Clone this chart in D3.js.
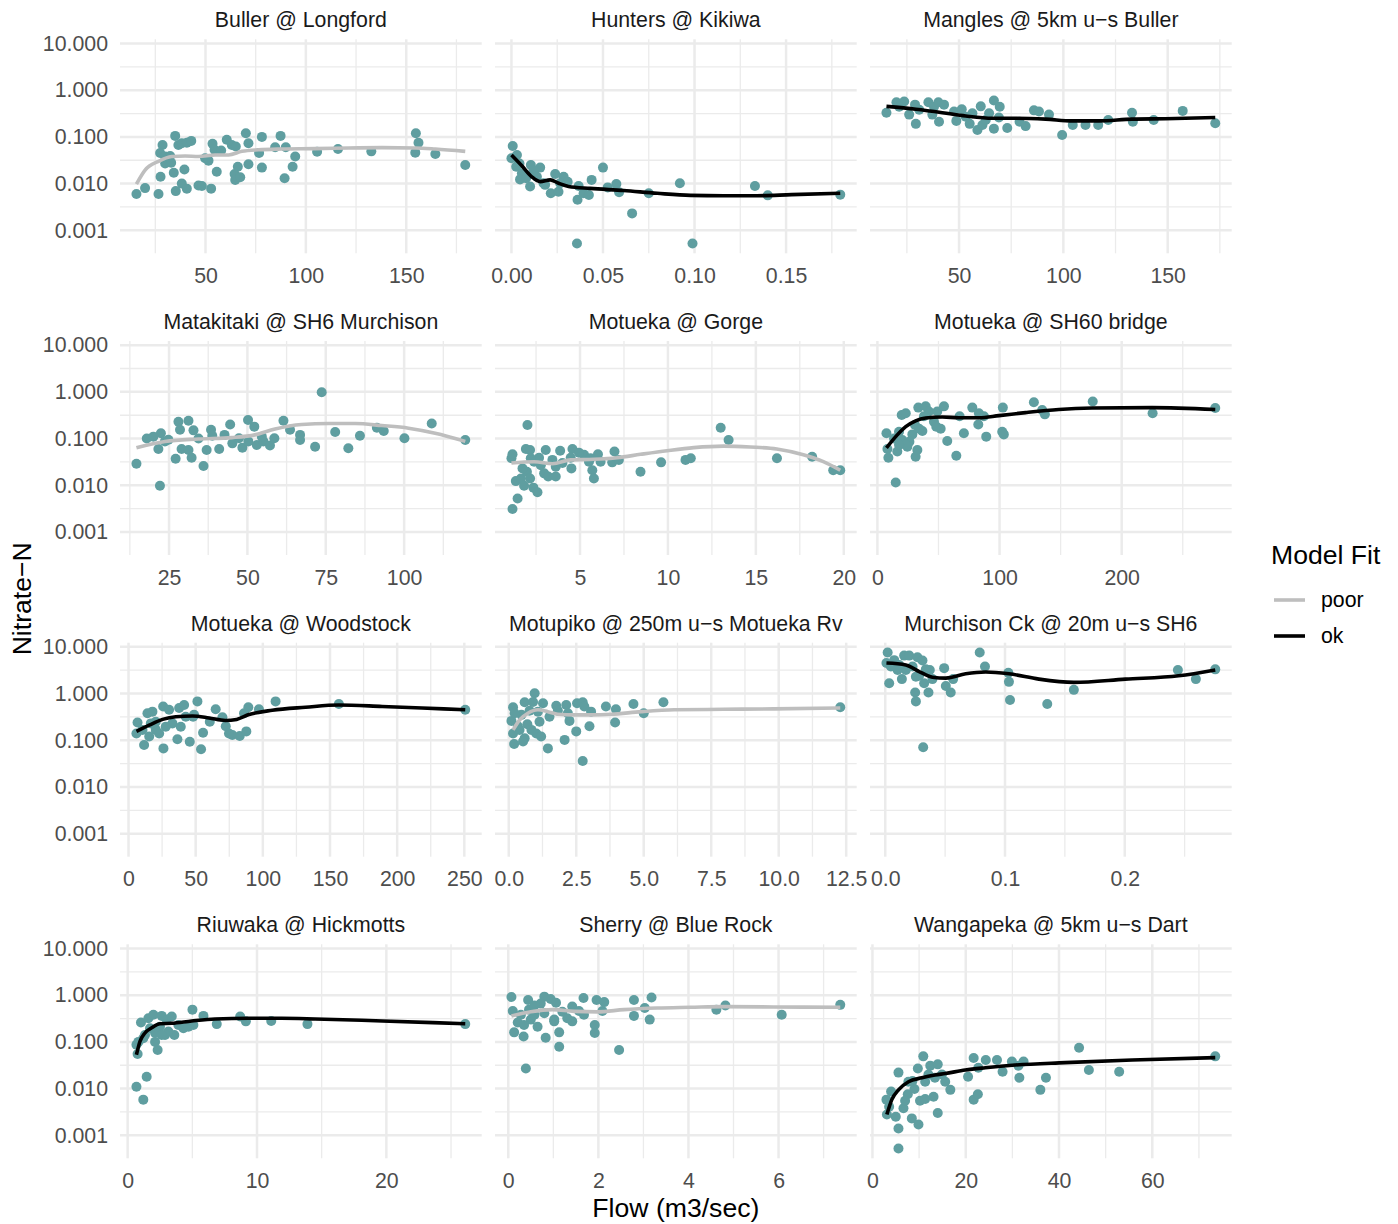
<!DOCTYPE html>
<html><head><meta charset="utf-8">
<script src="https://cdn.jsdelivr.net/npm/d3@7"></script>
<style>body{margin:0;background:#fff} svg{display:block}</style>
</head><body><svg id="chart" width="1398" height="1224"></svg>
<script>
const siteNames = ["Buller @ Longford","Hunters @ Kikiwa","Mangles @ 5km u\u2212s Buller","Matakitaki @ SH6 Murchison","Motueka @ Gorge","Motueka @ SH60 bridge","Motueka @ Woodstock","Motupiko @ 250m u\u2212s Motueka Rv","Murchison Ck @ 20m u\u2212s SH6","Riuwaka @ Hickmotts","Sherry @ Blue Rock","Wangapeka @ 5km u\u2212s Dart"];
const fitQuality = ["poor","ok","ok","poor","poor","ok","ok","poor","ok","ok","poor","ok"];
const legendLevels = ["poor","ok"];

const ptsBuller = [[15.6,0.006],[19.9,0.008],[26.6,0.006],[27.6,0.014],[28.6,0.067],[27.4,0.045],[29.9,0.038],[32.4,0.039],[29.9,0.027],[32.9,0.028],[34.9,0.105],[36.5,0.067],[38.2,0.073],[40.7,0.075],[42.9,0.082],[34.2,0.017],[39.5,0.020],[35.2,0.0069],[38.2,0.010],[40.7,0.0078],[46.5,0.0091],[48.2,0.0089],[52.8,0.0078],[49.8,0.035],[51.5,0.031],[53.5,0.071],[55.6,0.018],[54.5,0.053],[57.8,0.051],[60.6,0.087],[63.1,0.067],[65.1,0.062],[64.5,0.016],[64.8,0.012],[67.3,0.0137],[66.1,0.023],[70.1,0.12],[71.4,0.073],[71.4,0.026],[76.7,0.045],[78.1,0.10],[78.1,0.022],[84.7,0.060],[87.4,0.105],[89.4,0.013],[90.0,0.060],[94.7,0.038],[93.4,0.023],[105.6,0.048],[116.0,0.055],[132.6,0.049],[154.8,0.12],[156.1,0.075],[154.5,0.046],[164.5,0.043],[179.4,0.025]];
const fitBuller = [[15.6,0.0098],[19.9,0.0195],[26.6,0.030],[33.2,0.038],[39.9,0.039],[46.5,0.038],[54.8,0.041],[61.5,0.041],[68.1,0.049],[76.4,0.053],[88,0.055],[104.7,0.056],[121.3,0.058],[137.9,0.059],[154.5,0.058],[164.5,0.055],[179.4,0.049]];

const ptsHunters = [[0.0007,0.064],[0.003,0.041],[0,0.035],[0.0044,0.027],[0.0026,0.023],[0.0057,0.0166],[0.0047,0.0123],[0.0106,0.025],[0.0102,0.0087],[0.0157,0.022],[0.0139,0.014],[0.0184,0.0094],[0.0239,0.016],[0.0215,0.0062],[0.0257,0.0067],[0.0285,0.014],[0.0307,0.011],[0.0367,0.0089],[0.0361,0.0045],[0.0394,0.0062],[0.0423,0.0057],[0.0438,0.012],[0.05,0.022],[0.0526,0.0083],[0.0573,0.0098],[0.0588,0.0065],[0.0659,0.0023],[0.075,0.0062],[0.092,0.0102],[0.133,0.0089],[0.140,0.0056],[0.1796,0.0058],[0.0358,0.00052],[0.0989,0.00052],[0.008,0.013],[0.012,0.019],[0.0175,0.0102],[0.0266,0.0102]];
const fitHunters = [[0,0.041],[0.0057,0.024],[0.0111,0.014],[0.0157,0.011],[0.0212,0.012],[0.0257,0.0102],[0.0312,0.0087],[0.043,0.0079],[0.0613,0.0071],[0.0796,0.0062],[0.0978,0.0056],[0.116,0.0055],[0.134,0.0055],[0.153,0.0058],[0.1796,0.0062]];

const ptsMangles = [[15.2,0.33],[20.0,0.55],[23.7,0.57],[21.3,0.44],[26.1,0.30],[28.9,0.49],[29.3,0.19],[35.3,0.55],[38.0,0.44],[40.1,0.55],[42.8,0.49],[40.4,0.21],[47.6,0.35],[48.7,0.22],[51.3,0.39],[53.2,0.27],[55.1,0.19],[58.8,0.14],[60.4,0.45],[61.2,0.18],[66.7,0.60],[69.5,0.44],[66.7,0.15],[69.1,0.26],[73.1,0.155],[79.0,0.21],[81.9,0.17],[85.9,0.37],[88.3,0.35],[93.1,0.30],[99.4,0.11],[104.5,0.18],[110.6,0.18],[116.7,0.18],[121.5,0.23],[132.9,0.33],[133.3,0.21],[143.3,0.23],[157.2,0.36],[172.8,0.195],[56.4,0.32],[62.8,0.23],[64.4,0.32],[37.2,0.30],[30.9,0.38]];
const fitMangles = [[15.2,0.45],[29.3,0.39],[42.0,0.33],[53.2,0.28],[66.0,0.25],[77.1,0.25],[91.5,0.24],[104.2,0.22],[117,0.22],[132.9,0.24],[148.9,0.245],[172.8,0.26]];

const ptsMatakitaki = [[14.6,0.029],[17.9,0.10],[22.1,0.0098],[21.6,0.060],[22.4,0.13],[23.7,0.087],[27.1,0.037],[28.0,0.23],[28.5,0.155],[31.2,0.24],[29.0,0.060],[31.2,0.057],[32.2,0.039],[32.8,0.15],[36.0,0.026],[37.0,0.057],[38.4,0.155],[38.8,0.115],[41.0,0.060],[42.7,0.12],[44.5,0.20],[45.2,0.079],[48.4,0.064],[47.3,0.102],[50.2,0.25],[52.2,0.18],[53.0,0.073],[55.1,0.087],[57.2,0.071],[58.6,0.102],[61.5,0.24],[63.6,0.155],[66.8,0.12],[66.8,0.093],[71.6,0.067],[73.7,0.98],[78.0,0.138],[82.2,0.062],[85.9,0.115],[91.3,0.17],[93.5,0.145],[100.1,0.102],[108.8,0.21],[119.5,0.093],[20.0,0.11],[24.8,0.094],[34.4,0.10],[50.3,0.087],[54.6,0.11]];
const fitMatakitaki = [[14.6,0.064],[23.7,0.087],[34.4,0.098],[45.0,0.105],[52.4,0.12],[58.8,0.16],[67.3,0.20],[75.9,0.21],[84.4,0.21],[92.9,0.19],[101.4,0.167],[109.9,0.13],[119.5,0.087]];

const ptsGorge = [[1.16,0.0031],[1.45,0.0052],[1.1,0.038],[1.16,0.046],[1.35,0.0123],[1.64,0.014],[1.82,0.0098],[2.01,0.195],[1.92,0.060],[2.16,0.057],[1.98,0.0195],[2.16,0.014],[2.35,0.0089],[2.58,0.0071],[2.39,0.032],[2.67,0.039],[3.05,0.057],[2.96,0.018],[3.19,0.0154],[3.43,0.035],[3.62,0.0154],[3.87,0.055],[4.0,0.030],[4.51,0.023],[4.57,0.060],[4.47,0.039],[5.23,0.045],[5.51,0.032],[5.7,0.021],[5.79,0.014],[6.02,0.046],[6.17,0.032],[6.83,0.031],[6.96,0.053],[7.21,0.035],[8.44,0.0195],[9.61,0.031],[11.0,0.035],[11.3,0.038],[13.0,0.17],[13.45,0.093],[16.2,0.038],[18.2,0.041],[19.4,0.021],[19.8,0.021],[1.73,0.023],[2.77,0.027],[4.94,0.05],[3.62,0.025],[2.2,0.038],[5.6,0.038]];
const fitGorge = [[1.1,0.030],[2.39,0.032],[3.43,0.029],[4.47,0.035],[5.79,0.036],[7.12,0.039],[8.44,0.046],[9.95,0.055],[11.47,0.064],[13.17,0.069],[14.68,0.066],[16.19,0.060],[17.7,0.045],[18.84,0.032],[19.8,0.021]];

const ptsSH60 = [[7.4,0.13],[8.2,0.060],[9.0,0.039],[15.0,0.0115],[13.6,0.10],[16.3,0.053],[19.9,0.32],[23.2,0.35],[20.4,0.093],[24.5,0.067],[28.6,0.123],[31.3,0.041],[32.7,0.057],[30.8,0.195],[33.5,0.46],[36.8,0.145],[39.5,0.49],[42.2,0.38],[46.3,0.23],[49.0,0.38],[51.8,0.163],[54.5,0.49],[48.2,0.18],[57.2,0.089],[64.6,0.043],[67.3,0.30],[70.8,0.13],[77.7,0.46],[83.1,0.35],[82.6,0.20],[87.2,0.30],[89.1,0.11],[102.2,0.14],[103.5,0.123],[102.7,0.46],[128.1,0.60],[134.9,0.41],[137.1,0.33],[176.3,0.62],[225.3,0.35],[276.6,0.45],[17.7,0.14],[26.2,0.086],[34.1,0.163],[23.2,0.074],[17.7,0.074],[38.1,0.30]];
const fitSH60 = [[7.4,0.063],[15.0,0.11],[23.2,0.18],[31.3,0.24],[39.5,0.275],[53.1,0.29],[66.8,0.28],[83.1,0.28],[99.5,0.31],[121.3,0.36],[148.5,0.42],[175.7,0.45],[224.8,0.46],[276.6,0.42]];

const ptsWoodstock = [[5.9,0.14],[6.7,0.24],[11.6,0.079],[14.1,0.38],[15.4,0.12],[17.8,0.41],[20.3,0.25],[22.8,0.14],[26.0,0.067],[25.8,0.53],[30.2,0.45],[32.7,0.23],[36.4,0.105],[37.7,0.49],[41.4,0.57],[38.9,0.195],[45.6,0.093],[48.1,0.32],[51.3,0.68],[54.0,0.064],[55.5,0.145],[60.5,0.25],[64.9,0.46],[69.9,0.31],[72.4,0.20],[77.3,0.13],[82.8,0.123],[87.7,0.155],[86.0,0.38],[89.2,0.51],[97.1,0.46],[109.5,0.68],[156.6,0.60],[250.7,0.45],[10.4,0.167],[20.3,0.167],[27.7,0.195],[42.6,0.32],[48.8,0.35],[16.6,0.23],[74.8,0.14]];
const fitWoodstock = [[5.9,0.155],[15.4,0.21],[25.3,0.28],[35.2,0.32],[47.6,0.33],[60,0.30],[72,0.265],[80.5,0.28],[89.7,0.355],[107,0.44],[131.8,0.51],[156.6,0.57],[188.8,0.53],[218.5,0.49],[250.7,0.45]];

const ptsMotupiko = [[0.16,0.51],[0.1,0.26],[0.16,0.14],[0.2,0.083],[0.34,0.20],[0.47,0.35],[0.59,0.65],[0.59,0.11],[0.69,0.22],[0.9,0.66],[0.96,1.02],[1.02,0.14],[1.14,0.25],[1.2,0.12],[1.27,0.62],[1.45,0.067],[1.51,0.32],[1.76,0.55],[2.07,0.102],[2.13,0.57],[2.25,0.26],[2.5,0.155],[2.53,0.62],[2.74,0.65],[2.74,0.036],[2.99,0.20],[3.05,0.41],[3.6,0.53],[3.94,0.24],[3.97,0.46],[4.62,0.60],[5.0,0.38],[5.73,0.65],[12.28,0.51],[0.22,0.38],[0.4,0.167],[0.77,0.43],[1.08,0.41],[0.53,0.094],[0.84,0.167],[1.82,0.43],[2.8,0.53],[2.19,0.38]];
const fitMotupiko = [[0.16,0.167],[0.41,0.275],[0.71,0.38],[1.08,0.45],[1.45,0.41],[1.82,0.36],[2.44,0.35],[3.05,0.35],[3.79,0.36],[4.9,0.41],[6.13,0.45],[7.97,0.46],[9.82,0.47],[12.28,0.49]];

const ptsMurchison = [[0.002,7.6],[0.001,4.5],[0.0033,1.66],[0.0075,5.2],[0.0103,3.2],[0.0139,2.04],[0.0158,6.5],[0.02,6.5],[0.0172,3.2],[0.025,1.05],[0.0256,0.68],[0.0269,6.0],[0.0311,5.1],[0.0283,2.4],[0.0317,0.071],[0.0325,1.66],[0.0361,1.05],[0.0372,3.2],[0.0394,2.04],[0.0492,3.5],[0.0506,1.45],[0.0547,1.05],[0.0567,2.04],[0.0789,7.6],[0.0833,3.8],[0.1028,2.8],[0.1033,1.78],[0.1042,0.73],[0.1353,0.60],[0.1575,1.2],[0.2444,3.2],[0.2594,2.04],[0.2756,3.3],[0.0047,3.8],[0.0117,4.1],[0.0228,3.8],[0.0339,3.3],[0.0256,2.3]];
const fitMurchison = [[0.001,4.5],[0.0172,4.1],[0.0283,2.96],[0.0394,2.24],[0.0506,2.14],[0.0672,2.65],[0.0839,2.9],[0.1033,2.65],[0.1283,2.04],[0.1575,1.74],[0.2006,2.04],[0.245,2.4],[0.2756,3.2]];

const ptsRiuwaka = [[0.68,0.011],[1.21,0.0058],[1.47,0.018],[0.77,0.055],[0.68,0.087],[1.03,0.26],[1.34,0.14],[1.6,0.32],[1.99,0.38],[2.32,0.067],[2.12,0.155],[2.63,0.36],[2.5,0.21],[3.02,0.30],[3.41,0.35],[3.61,0.14],[3.15,0.167],[4.31,0.195],[5.01,0.49],[5.08,0.23],[5.86,0.36],[6.89,0.24],[8.7,0.35],[9.14,0.275],[11.1,0.28],[13.9,0.24],[26.1,0.24],[0.83,0.10],[1.21,0.12],[1.73,0.195],[2.89,0.14],[2.12,0.10],[3.92,0.23],[4.7,0.21],[2.63,0.14]];
const fitRiuwaka = [[0.68,0.053],[0.95,0.102],[1.34,0.155],[1.86,0.20],[2.5,0.245],[3.41,0.25],[4.95,0.28],[6.76,0.31],[9.34,0.32],[11.9,0.32],[14.5,0.31],[19.7,0.28],[26.1,0.245]];

const ptsSherry = [[0.07,0.91],[0.1,0.46],[0.13,0.16],[0.21,0.26],[0.34,0.13],[0.39,0.027],[0.44,0.79],[0.46,0.49],[0.5,0.30],[0.65,0.21],[0.8,0.93],[0.83,0.123],[0.8,0.41],[0.94,0.83],[1.02,0.30],[1.06,0.69],[1.13,0.16],[1.13,0.079],[1.2,0.44],[1.42,0.57],[1.42,0.275],[1.57,0.46],[1.67,0.87],[1.68,0.38],[1.92,0.23],[1.92,0.155],[1.96,0.79],[2.09,0.46],[2.13,0.71],[2.46,0.067],[2.79,0.79],[2.79,0.36],[3.03,0.53],[3.14,0.30],[3.18,0.89],[4.62,0.49],[4.82,0.60],[6.07,0.38],[7.37,0.62],[0.28,0.38],[0.58,0.38],[0.35,0.23],[1.31,0.32],[1.02,0.275],[0.72,0.66],[0.58,0.6]];
const fitSherry = [[0.07,0.36],[0.5,0.44],[0.98,0.49],[1.46,0.45],[1.98,0.44],[2.57,0.49],[3.31,0.53],[4.04,0.55],[4.78,0.57],[5.89,0.56],[7.37,0.55]];

const ptsWangapeka = [[3.0,0.0058],[3.1,0.0028],[4.0,0.0087],[3.58,0.0041],[5.0,0.0025],[5.58,0.022],[5.58,0.0014],[5.58,0.00052],[6.65,0.0038],[7.58,0.0076],[8.44,0.0023],[8.58,0.0146],[9.0,0.0098],[9.87,0.0017],[9.73,0.027],[10.2,0.0055],[10.9,0.049],[11.3,0.014],[11.3,0.006],[12.4,0.031],[13.1,0.0067],[14.0,0.033],[14.0,0.0030],[14.9,0.020],[15.6,0.014],[16.7,0.0094],[20.5,0.018],[21.7,0.045],[21.7,0.0058],[22.6,0.0076],[22.7,0.028],[24.3,0.041],[26.7,0.041],[27.9,0.023],[29.9,0.038],[32.4,0.038],[31.5,0.017],[36.0,0.0094],[37.2,0.017],[44.3,0.075],[46.4,0.025],[52.9,0.023],[73.5,0.049],[7.7,0.014],[13.4,0.017],[12.0,0.02],[7.0,0.0055],[31.3,0.031]];
const fitWangapeka = [[3.1,0.0028],[4.15,0.0058],[5.58,0.0094],[7.73,0.014],[10.6,0.017],[13.4,0.0195],[15.6,0.021],[19.9,0.025],[24.2,0.028],[30.6,0.032],[41.3,0.036],[55.7,0.041],[73.5,0.046]];

const sitePoints = [ptsBuller, ptsHunters, ptsMangles, ptsMatakitaki, ptsGorge, ptsSH60, ptsWoodstock, ptsMotupiko, ptsMurchison, ptsRiuwaka, ptsSherry, ptsWangapeka];
const siteFits = [fitBuller, fitHunters, fitMangles, fitMatakitaki, fitGorge, fitSH60, fitWoodstock, fitMotupiko, fitMurchison, fitRiuwaka, fitSherry, fitWangapeka];

const xTickValues = [[50,100,150],[0,0.05,0.1,0.15],[50,100,150],[25,50,75,100],[5,10,15,20],[0,100,200],[0,50,100,150,200,250],[0,2.5,5,7.5,10,12.5],[0,0.1,0.2],[0,10,20],[0,2,4,6],[0,20,40,60]];
const xTickLabels = [["50","100","150"],["0.00","0.05","0.10","0.15"],["50","100","150"],["25","50","75","100"],["5","10","15","20"],["0","100","200"],["0","50","100","150","200","250"],["0.0","2.5","5.0","7.5","10.0","12.5"],["0.0","0.1","0.2"],["0","10","20"],["0","2","4","6"],["0","20","40","60"]];
const yTickValues = [0.001,0.01,0.1,1,10];
const yTickLabels = ["0.001","0.010","0.100","1.000","10.000"];

const FONT = '"Liberation Sans", Arial, Helvetica, sans-serif';
const svg = d3.select("#chart");
const panelLeft = [120, 495, 870], panelW = 361.7;
const panelTop = [39.3, 341, 642.7, 944.3], panelH = 214;
const gridCol = "#EBEBEB";
const pointCol = "#5F9EA0";
const color = d3.scaleOrdinal().domain(legendLevels).range(["#BEBEBE", "#000000"]);

const allY = sitePoints.flat().map(d => d[1]);
const lyMin = Math.log10(d3.min(allY)), lyMax = Math.log10(d3.max(allY));
const lyPad = (lyMax - lyMin) * 0.05;
const yDomain = [Math.pow(10, lyMin - lyPad), Math.pow(10, lyMax + lyPad)];

const yMinor = [];
for (let k = -1; k < yTickValues.length; k++) {
  const lv = Math.log10(yTickValues[0]) + (k + 0.5);
  const v = Math.pow(10, lv);
  if (v >= yDomain[0] && v <= yDomain[1]) yMinor.push(v);
}

siteNames.forEach((name, i) => {
  const c = i % 3, r = Math.floor(i / 3);
  const g = svg.append("g").attr("transform", `translate(${panelLeft[c]},${panelTop[r]})`);
  const [mn, mx] = d3.extent(sitePoints[i], d => d[0]);
  const pad = (mx - mn) * 0.05;
  const x = d3.scaleLinear().domain([mn - pad, mx + pad]).range([0, panelW]);
  const y = d3.scaleLog().domain(yDomain).range([panelH, 0]);

  const ticks = xTickValues[i];
  const step = ticks[1] - ticks[0];
  const xMinor = [];
  for (let k = -1; k < ticks.length; k++) {
    const v = ticks[0] + (k + 0.5) * step;
    if (v >= x.domain()[0] && v <= x.domain()[1]) xMinor.push(v);
  }

  g.selectAll(".hminor").data(yMinor).join("line")
    .attr("x1", 0).attr("x2", panelW).attr("y1", d => y(d)).attr("y2", d => y(d))
    .attr("stroke", gridCol).attr("stroke-width", 1.3);
  g.selectAll(".vminor").data(xMinor).join("line")
    .attr("y1", 0).attr("y2", panelH).attr("x1", d => x(d)).attr("x2", d => x(d))
    .attr("stroke", gridCol).attr("stroke-width", 1.3);
  g.selectAll(".hmajor").data(yTickValues).join("line")
    .attr("x1", 0).attr("x2", panelW).attr("y1", d => y(d)).attr("y2", d => y(d))
    .attr("stroke", gridCol).attr("stroke-width", 2.5);
  g.selectAll(".vmajor").data(ticks).join("line")
    .attr("y1", 0).attr("y2", panelH).attr("x1", d => x(d)).attr("x2", d => x(d))
    .attr("stroke", gridCol).attr("stroke-width", 2.5);

  g.append("g").selectAll("circle").data(sitePoints[i]).join("circle")
    .attr("cx", d => x(d[0])).attr("cy", d => y(d[1])).attr("r", 5)
    .attr("fill", pointCol);

  const line = d3.line().x(d => x(d[0])).y(d => y(d[1])).curve(d3.curveMonotoneX);
  g.append("path").datum(siteFits[i]).attr("d", line)
    .attr("fill", "none").attr("stroke", color(fitQuality[i]))
    .attr("stroke-width", 3.6).attr("stroke-linejoin", "round");

  const xa = g.append("g").attr("transform", `translate(0,${panelH})`)
    .call(d3.axisBottom(x).tickValues(ticks).tickFormat((d, j) => xTickLabels[i][j]).tickSize(0).tickPadding(14.5));
  xa.select(".domain").remove();
  xa.attr("font-size", 21.3).attr("font-family", FONT);
  xa.selectAll("text").attr("fill", "#4D4D4D");

  if (c === 0) {
    const ya = g.append("g")
      .call(d3.axisLeft(y).tickValues(yTickValues).tickFormat((d, j) => yTickLabels[j]).tickSize(0).tickPadding(12));
    ya.select(".domain").remove();
    ya.attr("font-size", 21.3).attr("font-family", FONT);
    ya.selectAll("text").attr("fill", "#4D4D4D");
  }

  g.append("text").attr("x", panelW / 2).attr("y", -12)
    .attr("text-anchor", "middle").attr("font-family", FONT).attr("font-size", 21.3)
    .attr("fill", "#1A1A1A").text(name);
});

svg.append("text").attr("x", (panelLeft[0] + panelLeft[2] + panelW) / 2).attr("y", 1217)
  .attr("text-anchor", "middle").attr("font-family", FONT).attr("font-size", 26.6)
  .attr("fill", "#000").text("Flow (m3/sec)");
svg.append("text").attr("transform", `translate(31,${(panelTop[0] + panelTop[3] + panelH) / 2}) rotate(-90)`)
  .attr("text-anchor", "middle").attr("font-family", FONT).attr("font-size", 26.6)
  .attr("fill", "#000").text("Nitrate\u2212N");

const lg = svg.append("g").attr("transform", "translate(1271,0)");
lg.append("text").attr("x", 0).attr("y", 564).attr("font-family", FONT).attr("font-size", 26.6)
  .attr("fill", "#000").text("Model Fit");
const ly = d3.scalePoint().domain(legendLevels).range([600, 636]);
legendLevels.forEach(lv => {
  lg.append("line").attr("x1", 3).attr("x2", 34).attr("y1", ly(lv)).attr("y2", ly(lv))
    .attr("stroke", color(lv)).attr("stroke-width", 3.6);
  lg.append("text").attr("x", 50).attr("y", ly(lv)).attr("dy", "0.35em")
    .attr("font-family", FONT).attr("font-size", 21.3).attr("fill", "#000").text(lv);
});
</script>
</body></html>
